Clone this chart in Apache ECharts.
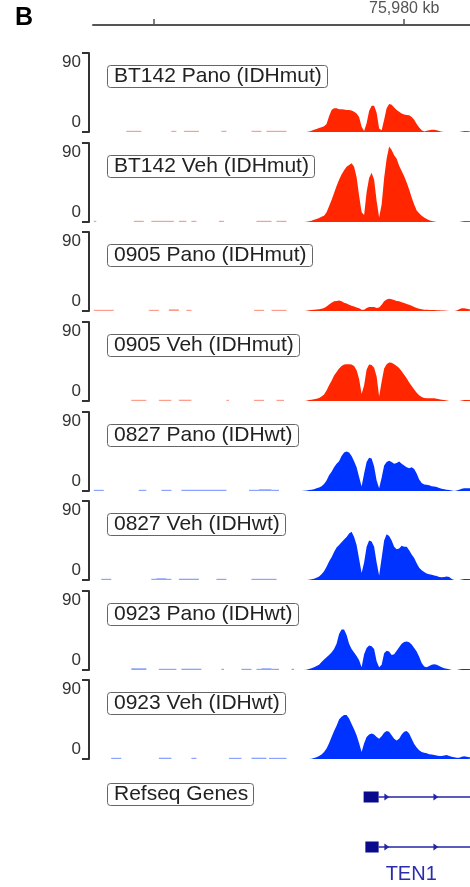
<!DOCTYPE html>
<html><head><meta charset="utf-8">
<script src="https://cdn.jsdelivr.net/npm/echarts@6/dist/echarts.min.js"></script>
<style>html,body{margin:0;padding:0;background:#fff;overflow:hidden}#c{width:470px;height:887px}</style>
</head><body><div id="c"></div>
<script>
// ---------------- data ----------------
const trackNames = ['BT142 Pano (IDHmut)','BT142 Veh (IDHmut)','0905 Pano (IDHmut)','0905 Veh (IDHmut)',
                    '0827 Pano (IDHwt)','0827 Veh (IDHwt)','0923 Pano (IDHwt)','0923 Veh (IDHwt)'];
const trackGroup = ['mut','mut','mut','mut','wt','wt','wt','wt'];
const X_MIN = 75967.57, X_MAX = 75982.63;        // visible window, kb
const START_KB = 75975.7, STEP_KB = 0.1;          // sampling of the coverage arrays
const rulerTicks = [75970, 75980];
const rulerLabels = [75980];
const yTicks = [0, 90];
const yMax = 90;

// coverage (signal) from START_KB every STEP_KB
const t1 = [0,0,0,0,0,0.5,1.5,2.5,3.5,4.5,5.5,6.5,9,18,25,27,27,26,26,25.5,25,25,24.5,23,21,17,6,1,10,24,30,30,22,4,2,14,27,32,31,28,25,23,21,20,19.5,19,17,14,9,5,2,0.5,1.5,2,2.5,2.5,2,1,0.3,0,0,0,0,0,0,0,0.5,1,1,0.8,0.5];
const t2 = [0,0,0,0,0.3,0.8,1.5,2.5,3.5,4.5,6,7,11,18,25,33,41,48,54,59,63,65,67,63,51,30,11,8,34,50,56,48,24,5,20,50,72,86,82,76,72,64,58,52,45,37,28,20,13,10,7,5,3.5,2,1,0.5,0,0,0,0,0,0,0,0,0,0,0.5,1,1,1,1];
const t3 = [0,0,0,0,0.3,0.8,1,1.3,1.7,2,2.5,3.5,5,7.5,9.5,11,11.5,12,11,9.5,8.5,7,6,5,4,3,1.5,1.5,3.5,4.5,4.5,4.5,3.5,4,7,11,13,14,13.5,12.5,11.5,11,10,9,8,7,6,4.5,3.5,2.5,2,1.5,1.3,1.2,1,1,0.8,0.8,0.5,0.5,0.3,0,0,0,0.5,2,3,3,2.5,2,1.5];
const t4 = [0,0,0,0,0.3,1,1.5,2,2.5,3.5,5,7.5,12,18,23,29,33,37,40,41.5,42,42,41.5,40,35,25,8,18,36,41.5,41,38,28,5,22,37,42,44,43.5,42,40,37.5,34,30,26,21,17,13,9.5,6.5,4.5,3.5,3,3,3,3,2.5,2,1.5,1,0.5,0,0,0,0,0,0.5,1,1,1,1];
const t5 = [0,0,0,0.3,0.6,1,1.5,2,3,4,5.5,8,12,18,22,27,31,34,40,44,45,44,40,34,27,16,5,20,33,38,37,28,12,3,15,29,33,34.5,33,31,32,33.5,31,29,27,26,27,25,20,13,9,7.5,7,6.5,5.5,5,4.5,3.5,2.5,2,1.5,1,0.5,0,0.5,1.5,2.5,3,3,3,3];
const t6 = [0,0,0,0,0,0.3,0.8,1.5,2.5,4,6.5,10,15,21,26,32,37,40,43,46,49,53,55,49,40,24,8,20,38,45,44,38,20,5,25,45,52,50,45,38,35,36,39,38,38,34,29,25,19,14,11,9,7.5,6.5,6,5,4.5,3.5,3,3.5,4,3.5,1,0,0,0,0.5,1,1,1,1];
const t7 = [0,0,0,0,0.3,1,2,3,4.5,6,9,12,14.5,17,20,24,30,41,46,46,40,30,24,20,16,11,3,18,25,28,27,24,10,3,6,19,22,21,17,18,22,26,30,32,32.5,31.5,29,25,21,15,8,4,3,4.5,6,6.5,6,4.5,3,2,1.5,0.8,0,0,0,0.5,1,1,1,1,1];
const t8 = [0,0,0,0,0,0,0.3,1,2,3.5,5,8,12,18,25,32,38,45,48,50,50,46,40,34,27,18,8,18,25,28,29,28,25,23,26,30,32,31,27,23,21,23,28,31,32,29,23,17,13,10,8,7,6.5,5.5,5,4.5,4,3.5,3.5,4,4.5,3.5,2.5,2,1.5,1.5,2.5,3,2.5,2,2];
// low background reads left of the peak region: [startKb, endKb, value]
const n1 = [[75968.9,75969.5,0.8],[75970.7,75970.9,1],[75971.2,75971.8,1],[75972.7,75972.9,0.8],[75973.9,75974.3,1],[75974.5,75975.3,1.2]];
const n2 = [[75967.6,75967.7,0.8],[75969.2,75969.6,1.2],[75969.9,75970.8,1],[75971.0,75971.3,0.8],[75971.5,75971.7,1],[75972.6,75972.8,1],[75974.1,75974.7,1],[75974.9,75975.3,1]];
const n3 = [[75967.6,75968.4,0.6],[75969.8,75970.2,0.6],[75970.6,75971.0,2],[75971.3,75971.5,0.6],[75974.0,75974.4,0.8],[75974.7,75975.3,1]];
const n4 = [[75969.1,75969.7,0.6],[75970.2,75970.7,1],[75971.0,75971.5,1.5],[75972.9,75973.0,0.6],[75974.0,75974.4,1],[75974.9,75975.2,0.8]];
const n5 = [[75967.6,75968.0,1],[75969.4,75969.7,0.8],[75970.3,75970.7,0.8],[75971.1,75972.9,0.5],[75973.8,75974.2,1],[75974.2,75974.7,2],[75974.7,75975.0,1]];
const n6 = [[75967.9,75968.3,0.6],[75969.9,75970.1,1],[75970.1,75970.5,2],[75970.5,75970.7,1],[75971.0,75971.8,1.5],[75972.5,75972.9,0.8],[75973.9,75974.9,1]];
const n7 = [[75969.1,75969.7,2],[75970.2,75970.9,1],[75971.1,75971.9,1.5],[75972.7,75972.8,0.6],[75973.5,75973.9,0.8],[75974.1,75974.3,1],[75974.3,75974.7,2],[75974.7,75975.0,1],[75975.5,75975.6,0.6]];
const n8 = [[75968.3,75968.7,0.6],[75970.2,75970.7,1.5],[75971.5,75971.7,0.6],[75973.0,75973.5,0.8],[75973.9,75974.5,1.5],[75974.6,75975.3,1]];
const coverage = [t1,t2,t3,t4,t5,t6,t7,t8];
const background = [n1,n2,n3,n4,n5,n6,n7,n8];

// Refseq transcripts: [row, exonStart, exonEnd, txEnd] (kb)
const transcripts = [[0, 75978.38, 75978.98, 75984], [1, 75978.45, 75978.98, 75984]];
const strandMarks = [75979.31, 75981.27];
const geneName = 'TEN1';
const panelLetter = 'B';

// ---------------- layout / style ----------------
const colors = {mut:'#ff2600', wt:'#0033ff'};
const trackTops = [53,143,232,322,412,501,591,680];
const trackH = 79;
const FONT = 'Liberation Sans, Arial, sans-serif';

function covPoints(vals){
  return vals.map((v,i) => [+(START_KB + i*STEP_KB).toFixed(2), v]);
}

const grids = [], xAxes = [], yAxes = [], series = [], titles = [];
trackTops.forEach((top, i) => {
  const col = colors[trackGroup[i]];
  grids.push({left:93, right:0, top:top, height:trackH});
  xAxes.push({type:'value', gridIndex:i, min:X_MIN, max:X_MAX, show:false});
  yAxes.push({
    type:'value', gridIndex:i, min:0, max:yMax, offset:4,
    axisLine:{show:true, lineStyle:{color:'#333', width:2}},
    axisTick:{show:true, customValues:yTicks, length:7, lineStyle:{color:'#333', width:2}},
    axisLabel:{show:true, customValues:yTicks, margin:8,
      formatter: v => v === yMax ? '{t|' + v + '}' : '{b|' + v + '}',
      rich:{t:{fontSize:17, color:'#333', fontFamily:FONT, padding:[18,0,0,0]},
            b:{fontSize:17, color:'#333', fontFamily:FONT, padding:[0,0,19,0]}}},
    splitLine:{show:false}
  });
  series.push({
    type:'line', xAxisIndex:i, yAxisIndex:i, symbol:'none', silent:true,
    data: covPoints(coverage[i]),
    lineStyle:{width:0}, areaStyle:{color:col, opacity:1},
    clip:true
  });
  // background reads as short low blocks
  series.push({
    type:'custom', xAxisIndex:i, yAxisIndex:i, silent:true, clip:true,
    encode:{x:[0,1], y:2},
    data: background[i],
    renderItem(params, api){
      const a = api.coord([api.value(0), 0]);
      const b = api.coord([api.value(1), api.value(2)]);
      const h = Math.max(1.2, a[1] - b[1]);
      return {type:'rect', shape:{x:a[0], y:a[1]-h, width:b[0]-a[0], height:h},
              style:{fill:col, opacity:0.45}};
    }
  });
  titles.push({
    text:trackNames[i], left:107, top:top+12, padding:[1,6,1,7],
    borderColor:'#666', borderWidth:1, borderRadius:3, backgroundColor:'#fff',
    textStyle:{fontSize:21, lineHeight:21, fontWeight:'normal', color:'#222', fontFamily:FONT}
  });
});

// ruler
const R = grids.length;
grids.push({left:93, right:0, top:24, height:1});
xAxes.push({type:'value', gridIndex:R, min:X_MIN, max:X_MAX, position:'top',
  axisLine:{show:true, lineStyle:{color:'#555', width:2}},
  axisTick:{show:true, customValues:rulerTicks, length:6, lineStyle:{color:'#555', width:1.5}},
  axisLabel:{show:true, customValues:rulerLabels, margin:7, fontSize:16, color:'#555', fontFamily:FONT,
    formatter: v => v.toLocaleString('en-US') + ' kb'},
  splitLine:{show:false}});
yAxes.push({type:'value', gridIndex:R, show:false});

// genes
const G = grids.length;
grids.push({left:93, right:0, top:772, height:100});
xAxes.push({type:'value', gridIndex:G, min:X_MIN, max:X_MAX, show:false});
yAxes.push({type:'category', gridIndex:G, data:['tx1','tx2'], inverse:true, show:false});
series.push({
  type:'custom', xAxisIndex:G, yAxisIndex:G, clip:false, silent:true,
  encode:{x:[1,2,3], y:0},
  data: transcripts,
  renderItem(params, api){
    const cs = params.coordSys;
    const xr = cs.x + cs.width;
    const row = api.value(0);
    const p0 = api.coord([api.value(1), row]);
    const p1 = api.coord([api.value(2), row]);
    const p2 = api.coord([api.value(3), row]);
    const y = p0[1];
    const line = '#2424a8', box = '#0a0a8c';
    const ch = [
      {type:'line', shape:{x1:p1[0], y1:y, x2:Math.min(p2[0], xr), y2:y}, style:{stroke:line, lineWidth:1.5}},
      {type:'rect', shape:{x:p0[0], y:y-5.5, width:p1[0]-p0[0], height:11}, style:{fill:box}}
    ];
    strandMarks.forEach(a => {
      const pa = api.coord([a, row]);
      if (pa[0] < xr) ch.push({type:'polygon', shape:{points:[[pa[0]-2.5,y-3.5],[pa[0]+2.5,y],[pa[0]-2.5,y+3.5]]}, style:{fill:line}});
    });
    if (row === transcripts.length - 1) {
      ch.push({type:'text', style:{text:geneName, x:p1[0]+7, y:y+27, textAlign:'left', textVerticalAlign:'middle',
        fontSize:20, fontFamily:FONT, fill:'#2b2bb0'}});
    }
    return {type:'group', children:ch};
  }
});
titles.push({
  text:'Refseq Genes', left:107, top:783, padding:[1,6,1,7],
  borderColor:'#666', borderWidth:1, borderRadius:3, backgroundColor:'#fff',
  textStyle:{fontSize:21, lineHeight:21, fontWeight:'normal', color:'#222', fontFamily:FONT}
});

const chart = echarts.init(document.getElementById('c'), null, {renderer:'canvas'});
chart.setOption({
  animation:false,
  backgroundColor:'#fff',
  title: titles,
  grid: grids, xAxis: xAxes, yAxis: yAxes, series: series,
  graphic:[{type:'text', left:15, top:6, style:{text:panelLetter, fontSize:25, fontWeight:'bold', fontFamily:FONT, fill:'#000'}}]
});
</script></body></html>
